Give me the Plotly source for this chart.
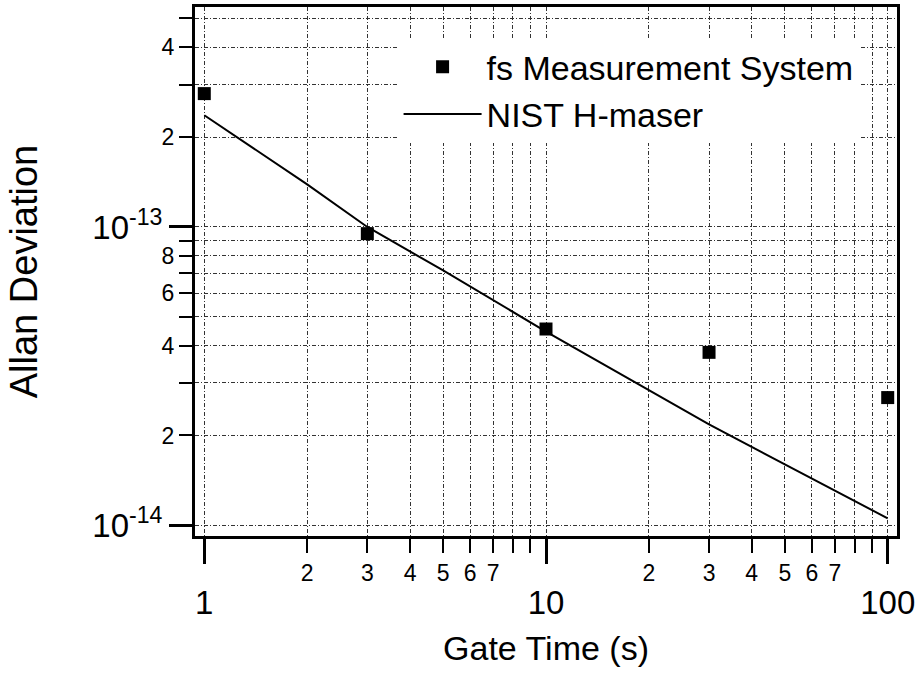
import plotly.graph_objects as go

# ---- data ----
fs_gate_time = [1, 3, 10, 30, 100]
fs_adev = [2.8e-13, 9.5e-14, 4.55e-14, 3.8e-14, 2.68e-14]

maser_gate_time = [1, 2, 3, 5, 10, 20, 30, 50, 70, 100]
maser_adev = [2.37e-13, 1.39e-13, 1.0e-13, 7.15e-14, 4.46e-14,
              2.83e-14, 2.18e-14, 1.60e-14, 1.31e-14, 1.055e-14]

x_minor_vals = [2, 3, 4, 5, 6, 7, 8, 9, 20, 30, 40, 50, 60, 70, 80, 90]
x_minor_text = ["2", "3", "4", "5", "6", "7", " ", " ", "2", "3", "4", "5", "6", "7", " ", " "]
x_major_vals = [1, 10, 100]
x_major_text = ["1", "10", "100"]

y_minor_vals = [2e-14, 3e-14, 4e-14, 5e-14, 6e-14, 7e-14, 8e-14, 9e-14,
                2e-13, 3e-13, 4e-13, 5e-13]
y_minor_text = ["2", " ", "4", " ", "6", " ", "8", " ", "2", " ", "4", " "]
y_major_vals = [1e-14, 1e-13]
y_major_text = ["10<sup>-14</sup>", "10<sup>-13</sup>"]

x_range = [-0.0272, 2.0272]
y_range = [-14.0359, -12.2625]

FONT = "Liberation Sans, Arial, sans-serif"
GRID = dict(showgrid=True, gridcolor="#333333", gridwidth=1, griddash="4px,2px,1px,2px")

fig = go.Figure()
fig.add_trace(go.Scatter(
    x=fs_gate_time, y=fs_adev, mode="markers", name="fs Measurement System",
    marker=dict(symbol="square", size=13, color="black"),
    xaxis="x", yaxis="y"))
fig.add_trace(go.Scatter(
    x=maser_gate_time, y=maser_adev, mode="lines", name="NIST H-maser",
    line=dict(color="black", width=2),
    xaxis="x2", yaxis="y2"))

fig.update_layout(
    width=919, height=677,
    margin=dict(l=195, r=22, t=7, b=141, autoexpand=False),
    paper_bgcolor="white", plot_bgcolor="white",
    font=dict(family=FONT, color="black"),
    showlegend=True,
    legend=dict(x=0.29, y=0.941, xanchor="left", yanchor="top",
                bgcolor="white", borderwidth=0,
                font=dict(size=34, family=FONT), itemwidth=78,
                tracegroupgap=0),
    xaxis=dict(type="log", range=x_range, tickmode="array",
               tickvals=x_minor_vals, ticktext=x_minor_text,
               ticks="outside", ticklen=14, tickwidth=2, tickcolor="black",
               tickfont=dict(size=23, family=FONT), automargin=False,
               showline=True, linecolor="black", linewidth=3, mirror=True,
               zeroline=False, **GRID),
    xaxis2=dict(type="log", range=x_range, overlaying="x", side="bottom",
                tickmode="array", tickvals=x_major_vals, ticktext=x_major_text,
                ticks="outside", ticklen=27, tickwidth=3, tickcolor="black",
                tickfont=dict(size=33, family=FONT), ticklabelstandoff=10,
                showline=False, zeroline=False, automargin=False,
                title=dict(text="Gate Time (s)", font=dict(size=34, family=FONT), standoff=16),
                **GRID),
    yaxis=dict(type="log", range=y_range, tickmode="array",
               tickvals=y_minor_vals, ticktext=y_minor_text,
               ticks="outside", ticklen=13, tickwidth=2, tickcolor="black",
               tickfont=dict(size=23, family=FONT), automargin=False,
               showline=True, linecolor="black", linewidth=3, mirror=True,
               zeroline=False, **GRID),
    yaxis2=dict(type="log", range=y_range, overlaying="y", side="left",
                tickmode="array", tickvals=y_major_vals, ticktext=y_major_text,
                ticks="outside", ticklen=25, tickwidth=3, tickcolor="black",
                tickfont=dict(size=33, family=FONT), automargin=False,
                showline=False, zeroline=False,
                title=dict(text="Allan Deviation", font=dict(size=38, family=FONT), standoff=42),
                **GRID),
)

fig.write_html("out.html", config={"displayModeBar": False},
               post_script="document.body.style.margin='0px';")
